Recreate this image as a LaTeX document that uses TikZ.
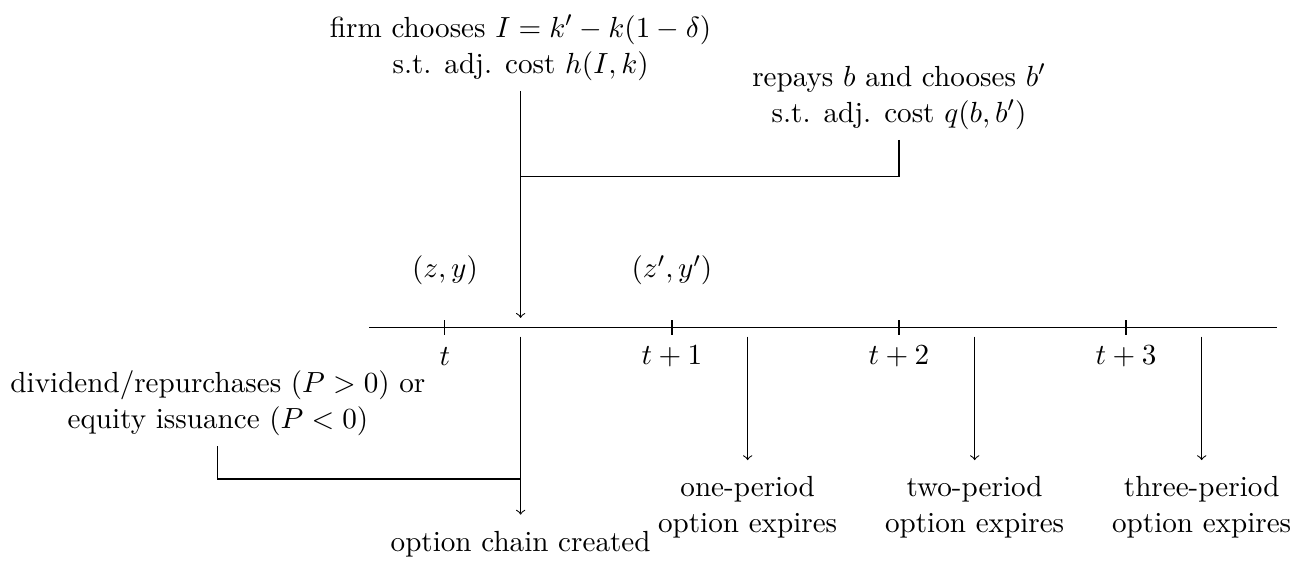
\documentclass[11pt,tikz,border=0pt]{standalone}
\begin{document}
\begin{tikzpicture}[
    lbl/.style={align=center},
    line/.style={->}
    ]

\useasboundingbox (-5.88,-3.09) rectangle (11.22,4.33);

% time axis with ticks
\coordinate (axl) at (-1,0);
\coordinate (axr) at (11,0);
\draw (axl) -- (axr);
\foreach \x/\lab in {0/t,3/t+1,6/t+2,9/t+3} {
    \draw (\x,0.1) -- (\x,-0.1);
    \node (tick\x) at (\x,-0.38) {$\lab$};
}

% states
\node (state)  at (0,0.76) {$(z,y)$};
\node (statep) at (3,0.76) {$(z',y')$};

% investment decision
\node[lbl, anchor=south] (invest) at (1,3.13) {firm chooses $I=k'-k(1-\delta)$\\ s.t. adj. cost $h(I,k)$};
\coordinate (investout) at (1,0.13);
\draw[line] (invest.south) -- (investout);

% debt choice
\node[lbl, anchor=south] (debt) at (6,2.48) {repays $b$ and chooses $b'$\\ s.t. adj. cost $q(b,b')$};
\coordinate (debtjoin) at (1,2);
\draw (debt.south) |- (debtjoin);

% payout or issuance
\node[lbl, anchor=south] (equity) at (-3,-1.57) {dividend/repurchases ($P>0$) or\\ equity issuance ($P<0$)};
\coordinate (equityjoin) at (1,-2);
\draw (equity.south) |- (equityjoin);

% option chain
\coordinate (chainin)  at (1,-0.12);
\coordinate (chainout) at (1,-2.47);
\draw[line] (chainin) -- (chainout);
\node (chain) at (1,-2.86) {option chain created};

% expiries
\foreach \x/\n in {4/one,7/two,10/three} {
    \coordinate (exp\n in)  at (\x,-0.12);
    \coordinate (exp\n out) at (\x,-1.75);
    \draw[line] (exp\n in) -- (exp\n out);
    \node[lbl] (exp\n) at (\x,-2.37) {\n-period\\option expires};
}

\end{tikzpicture}
\end{document}
